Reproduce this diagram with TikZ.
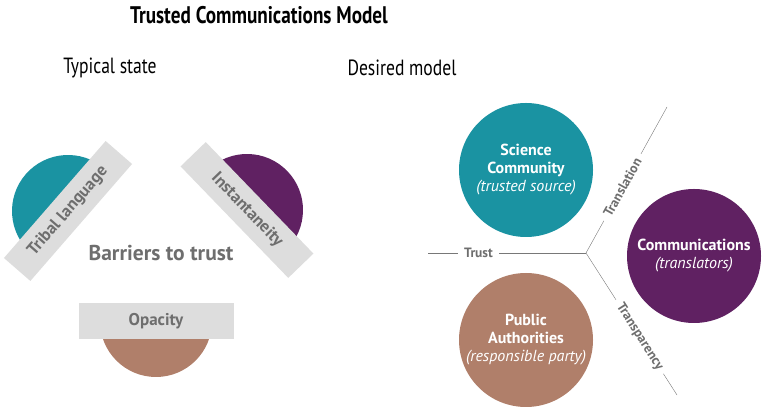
\documentclass[tikz,border=0pt]{standalone}
\usepackage{fontspec}
\setmainfont{PT Sans}
\newfontfamily\titlefont[FakeStretch=0.8]{PT Sans}
\definecolor{tealc}{RGB}{26,147,162}
\definecolor{purplec}{RGB}{96,33,98}
\definecolor{brownc}{RGB}{176,127,106}
\definecolor{barfill}{RGB}{221,221,221}
\definecolor{bartext}{RGB}{110,110,110}
\definecolor{linegray}{RGB}{120,120,120}
\begin{document}
\begin{tikzpicture}[x=1pt,y=1pt,inner sep=0pt,outer sep=0pt,
barblock/.style={fill=barfill,rectangle,minimum width=155pt,minimum height=35pt,text=bartext,font=\bfseries\fontsize{17}{17}\selectfont},
bubble/.style={circle,minimum size=134pt,text=white,align=center,font=\fontsize{16}{18}\selectfont},
branch/.style={fill=white,inner xsep=6pt,text=bartext,font=\bfseries\fontsize{13.5}{13.5}\selectfont}]
\useasboundingbox (0,0) rectangle (765,411);

\node (title) at (259,396) {\titlefont\bfseries\fontsize{24}{24}\selectfont Trusted Communications Model};
\node (typical) at (110,343) {\titlefont\fontsize{22}{22}\selectfont Typical state};
\node (desired) at (402,343) {\titlefont\fontsize{22}{22}\selectfont Desired model};

% typical state
\coordinate (tribalc) at (68,200);
\coordinate (instantc) at (247,201);
\coordinate (opacityc) at (156,90);
\fill[tealc,shift={(tribalc)}] (49:56) arc[start angle=49,end angle=229,radius=56] -- cycle;
\fill[purplec,shift={(instantc)}] (-46:56) arc[start angle=-46,end angle=134,radius=56] -- cycle;
\fill[brownc,shift={(opacityc)}] (180:56) arc[start angle=180,end angle=360,radius=56] -- cycle;
\node[barblock,rotate=49] (tribal) at (tribalc) {Tribal language};
\node[barblock,rotate=-46] (instant) at (instantc) {Instantaneity};
\node[barblock,minimum height=36pt] (opacity) at (opacityc) {Opacity};
\node[text=bartext,font=\bfseries\fontsize{21.5}{21.5}\selectfont] (barriers) at (161,158) {Barriers to trust};

% desired model
\coordinate (junc) at (586,158);
\coordinate (trustend) at (428,158);
\coordinate (upend) at (667,304);
\coordinate (lowend) at (677,16);
\draw[linegray] (junc) -- node[branch,pos=0.68] (trust) {Trust} (trustend);
\draw[linegray] (junc) -- node[branch,pos=0.45,sloped] (transl) {Translation} (upend);
\draw[linegray] (junc) -- node[branch,pos=0.59,sloped] (transp) {Transparency} (lowend);

\node[bubble,fill=tealc] (science) at (526,241) {\textbf{Science}\\\textbf{Community}\\\textit{(trusted source)}};
\node[bubble,fill=purplec] (comms) at (694,155) {\textbf{Communications}\\\textit{(translators)}};
\node[bubble,fill=brownc] (public) at (526,71) {\textbf{Public}\\\textbf{Authorities}\\\textit{(responsible party)}};
\end{tikzpicture}
\end{document}
